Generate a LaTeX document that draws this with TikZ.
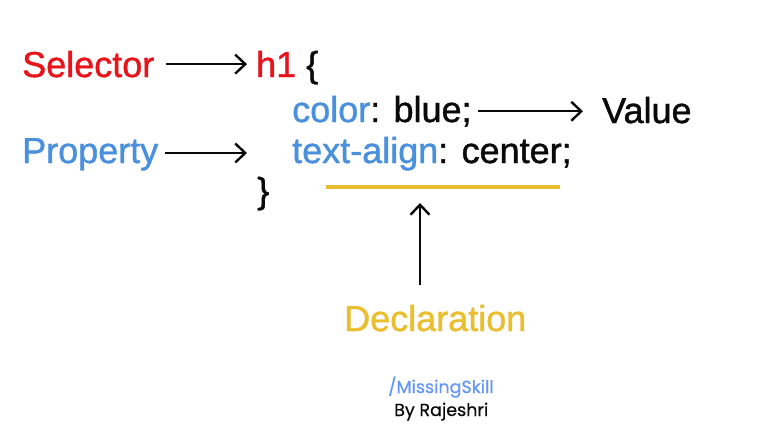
\documentclass[tikz,border=0pt]{standalone}
\usepackage{fontspec}
\setmainfont{Liberation Sans}[FakeBold=1.2]
\newfontfamily\brandfont{Poppins}[FakeBold=0.6]
\usetikzlibrary{arrows.meta, positioning}
\usepackage{xcolor}
\definecolor{selectorred}{RGB}{232, 20, 28}
\definecolor{propertyblue}{RGB}{74, 144, 220}
\definecolor{declyellow}{RGB}{235, 190, 48}
\definecolor{brandblue}{RGB}{100, 150, 245}
\definecolor{inkblack}{RGB}{10, 10, 10}
\tikzset{
    code text/.style={
        inner sep=0pt,
        anchor=base west,
        text=inkblack,
        font=\fontsize{36}{40}\selectfont
    },
    label text/.style={
        code text
    },
    brand text/.style={
        inner sep=0pt,
        anchor=base west,
        font=\brandfont\fontsize{17.5}{20}\selectfont
    },
    pointer/.style={
        -{Straight Barb[length=10pt, width=19pt]},
        line width=2.4pt,
        draw=inkblack
    },
    underline/.style={
        line width=4.5pt,
        draw=declyellow
    }
}

\begin{document}
\begin{tikzpicture}[
    x=1pt,
    y=-1pt
]
\useasboundingbox (0, 0) rectangle (758, 447);

% === CODE ===

% Selector line
\node[code text] (h1) at (256, 77) {{\color{selectorred}h1} \{};

% Declarations
\node[code text] (colorrow) at (292, 122) {{\color{propertyblue}color}: blue;};
\node[code text] (alignrow) at (292, 163) {{\color{propertyblue}text-align}: center;};

% Closing brace
\node[code text] (close) at (257, 203) {\}};

% Declaration underline
\coordinate (ulstart) at (326, 187);
\coordinate (ulend) at (560, 187);
\draw[underline] (ulstart) -- (ulend);

% === LABELS ===

\node[label text, text=selectorred] (selector) at (22, 77) {Selector};
\node[label text, text=propertyblue] (property) at (22, 163) {Property};
\node[label text] (value) at (602, 123) {Value};
\node[label text, text=declyellow] (declaration) at (344, 331) {Declaration};

% === POINTERS ===

% Selector → h1
\draw[pointer, shorten <=12pt, shorten >=9pt] (selector.east) -- (selector.east -| h1.west);

% Property → declarations
\coordinate (propend) at (247, 153);
\draw[pointer, shorten <=7pt] (property.east |- propend) -- (propend);

% color: blue; → Value
\draw[pointer, shorten <=6pt, shorten >=19pt] (colorrow.east) -- (colorrow.east -| value.west);

% Declaration → underline
\coordinate (declfoot) at (420, 285);
\coordinate (declhead) at (420, 203);
\draw[pointer] (declfoot) -- (declhead);

% === CREDITS ===

\node[brand text, text=brandblue] (brand) at (388, 393) {/MissingSkill};
\node[brand text, text=inkblack] (author) at (394, 416) {By Rajeshri};

\end{tikzpicture}
\end{document}
